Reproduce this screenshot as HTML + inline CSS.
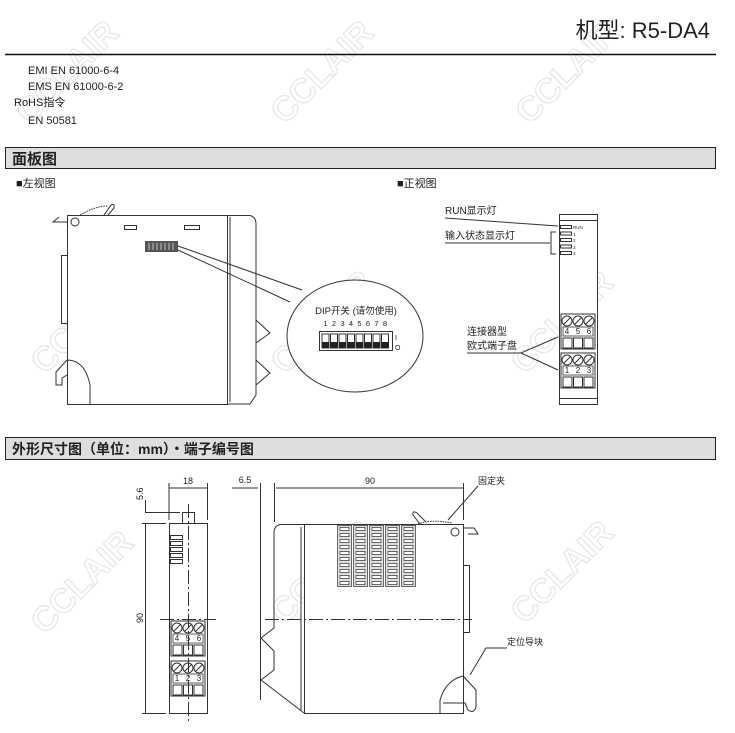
<!DOCTYPE html>
<html><head><meta charset="utf-8"><style>
html,body{margin:0;padding:0;background:#fff}
svg{display:block}
text{font-family:"Liberation Sans","Noto Sans CJK SC",sans-serif;fill:#222}
</style></head><body>
<svg width="735" height="733" viewBox="0 0 735 733" xmlns="http://www.w3.org/2000/svg">
<defs>
<g id="tb">
 <rect x="0" y="0" width="34" height="35" fill="#fff" stroke="#333" stroke-width="1"/>
 <circle cx="6" cy="7" r="5" fill="none" stroke="#333"/><line x1="2.5" y1="10.5" x2="9.5" y2="3.5" stroke="#333"/>
 <circle cx="17" cy="7" r="5" fill="none" stroke="#333"/><line x1="13.5" y1="10.5" x2="20.5" y2="3.5" stroke="#333"/>
 <circle cx="28" cy="7" r="5" fill="none" stroke="#333"/><line x1="24.5" y1="10.5" x2="31.5" y2="3.5" stroke="#333"/>
 <rect x="2" y="13" width="30" height="9" fill="none" stroke="#333" stroke-width="0.8"/>
 <rect x="2" y="24" width="9" height="10" fill="none" stroke="#333"/>
 <rect x="12.5" y="24" width="9" height="10" fill="none" stroke="#333"/>
 <rect x="23" y="24" width="9" height="10" fill="none" stroke="#333"/>
</g>
<g id="wm"><text x="0" y="0" font-size="34" font-weight="bold" stroke="#e6e6e6" stroke-width="1.2" style="fill:none" transform="rotate(-45)" text-anchor="middle">CCLAIR</text></g>
<pattern id="slot" patternUnits="userSpaceOnUse" x="337.5" y="526" width="16" height="6">
 <rect x="2.5" y="1.5" width="9" height="3" fill="#fff" stroke="#444" stroke-width="0.8"/>
</pattern>
</defs>

<use href="#wm" x="75" y="80"/><use href="#wm" x="330" y="80"/><use href="#wm" x="575" y="80"/>
<use href="#wm" x="90" y="330"/><use href="#wm" x="330" y="330"/><use href="#wm" x="570" y="330"/>
<use href="#wm" x="90" y="590"/><use href="#wm" x="330" y="580"/><use href="#wm" x="570" y="580"/>

<text x="710" y="38" font-size="22" text-anchor="end">机型: R5-DA4</text>
<line x1="5" y1="54.5" x2="716" y2="54.5" stroke="#111" stroke-width="1.5"/>
<text x="28" y="74" font-size="11">EMI EN 61000-6-4</text>
<text x="28" y="90" font-size="11">EMS EN 61000-6-2</text>
<text x="14" y="106" font-size="11">RoHS指令</text>
<text x="28" y="124" font-size="11">EN 50581</text>

<rect x="5.5" y="147.5" width="710" height="21" fill="#dedede" stroke="#222"/>
<text x="12" y="164" font-size="15" font-weight="bold">面板图</text>
<text x="16" y="187" font-size="11">■左视图</text>
<text x="397" y="187" font-size="11">■正视图</text>

<g fill="none" stroke="#333" stroke-width="1">
 <rect x="67.5" y="215.5" width="160" height="189" fill="#fff"/>
 <path d="M227.5 215.5 H250 Q256 217 256 224 V395 L250 404 H227.5"/>
 <line x1="230" y1="217" x2="230" y2="402"/>
 <path d="M256 320 L270 333 L256 343"/><path d="M256 360 L270 373 L256 385"/>
 <rect x="124.5" y="225.5" width="12" height="4"/><rect x="184.5" y="225.5" width="15" height="4"/>
 <circle cx="75" cy="222" r="4"/>
 <path d="M67 222 L53 222 L59 217"/>
 <rect x="61.5" y="255.5" width="6" height="68"/>
 <path d="M80 215 Q95 206 108 206" stroke-dasharray="1.5 1"/>
 <path d="M104 215 L111 205 Q115 203 114 208 L108 215"/>
 <path d="M67 360 Q85 360 90 385 V404 M67 360 L56 372 V385 H62 V378 L67 375"/>
 <path d="M178 246 L302 290"/><path d="M178 250 L290 302"/>
 <ellipse cx="355" cy="336" rx="68" ry="56" fill="#fff"/>
</g>
<rect x="145" y="241" width="33" height="11" fill="#555"/>
<g stroke="#ddd" stroke-width="0.8"><line x1="149" y1="243" x2="149" y2="250"/><line x1="153" y1="243" x2="153" y2="250"/><line x1="157" y1="243" x2="157" y2="250"/><line x1="161" y1="243" x2="161" y2="250"/><line x1="165" y1="243" x2="165" y2="250"/><line x1="169" y1="243" x2="169" y2="250"/><line x1="173" y1="243" x2="173" y2="250"/></g>
<text x="356" y="314" font-size="9.5" text-anchor="middle">DIP开关 (请勿使用)</text>
<g font-size="7.5" text-anchor="middle">
<text x="325.5" y="326">1</text><text x="334" y="326">2</text><text x="342.5" y="326">3</text><text x="351" y="326">4</text><text x="359.5" y="326">5</text><text x="368" y="326">6</text><text x="376.5" y="326">7</text><text x="385" y="326">8</text>
</g>
<rect x="319.5" y="331.5" width="73" height="19" fill="#fff" stroke="#333"/>
<g fill="#fff" stroke="#333">
<rect x="322" y="334" width="7" height="14"/><rect x="330.5" y="334" width="7" height="14"/><rect x="339" y="334" width="7" height="14"/><rect x="347.5" y="334" width="7" height="14"/><rect x="356" y="334" width="7" height="14"/><rect x="364.5" y="334" width="7" height="14"/><rect x="373" y="334" width="7" height="14"/><rect x="381.5" y="334" width="7" height="14"/>
</g>
<g fill="#222"><rect x="322" y="342" width="7" height="6"/><rect x="330.5" y="342" width="7" height="6"/><rect x="339" y="342" width="7" height="6"/><rect x="347.5" y="342" width="7" height="6"/><rect x="356" y="342" width="7" height="6"/><rect x="364.5" y="342" width="7" height="6"/><rect x="373" y="342" width="7" height="6"/><rect x="381.5" y="342" width="7" height="6"/></g>
<text x="395" y="340" font-size="7">I</text><text x="395" y="350" font-size="7">O</text>

<g fill="none" stroke="#333">
 <rect x="559.5" y="214.5" width="38" height="190" fill="#fff"/>
 <line x1="559" y1="220.5" x2="597" y2="220.5"/><line x1="559" y1="398.5" x2="597" y2="398.5"/>
 <rect x="560.5" y="225.5" width="11" height="3"/><rect x="560.5" y="232" width="11" height="3"/><rect x="560.5" y="238.5" width="11" height="3"/><rect x="560.5" y="245" width="11" height="3"/><rect x="560.5" y="251.5" width="11" height="3"/>
 <line x1="445" y1="218" x2="558" y2="226"/>
 <line x1="445" y1="243" x2="550" y2="243"/>
 <path d="M556 232 H551 V254 H556"/>
 <path d="M467 353 H521 L558 337 M521 353 L558 370"/>
</g>
<text x="573" y="229" font-size="4.5">RUN</text>
<text x="573" y="236" font-size="4.5">1</text><text x="573" y="242" font-size="4.5">2</text><text x="573" y="249" font-size="4.5">3</text><text x="573" y="255" font-size="4.5">4</text>
<text x="445" y="214" font-size="10">RUN显示灯</text>
<text x="445" y="239" font-size="10">输入状态显示灯</text>
<text x="467" y="335" font-size="10">连接器型</text>
<text x="467" y="349" font-size="10">欧式端子盘</text>
<use href="#tb" x="561" y="314"/>
<use href="#tb" x="561" y="353"/>
<text x="567" y="334" font-size="8" text-anchor="middle">4</text><text x="578" y="334" font-size="8" text-anchor="middle">5</text><text x="589" y="334" font-size="8" text-anchor="middle">6</text>
<text x="567" y="373" font-size="8" text-anchor="middle">1</text><text x="578" y="373" font-size="8" text-anchor="middle">2</text><text x="589" y="373" font-size="8" text-anchor="middle">3</text>

<rect x="5.5" y="437.5" width="710" height="22" fill="#dedede" stroke="#222"/>
<text x="12" y="454" font-size="14" font-weight="bold">外形尺寸图（单位：mm）・端子编号图</text>

<g fill="none" stroke="#333">
 <rect x="169.5" y="523.5" width="38" height="190" fill="#fff"/>
 <rect x="182.5" y="512.5" width="12" height="11"/>
 <line x1="169" y1="483" x2="169" y2="520"/><line x1="207.5" y1="483" x2="207.5" y2="520"/>
 <line x1="169" y1="488" x2="207" y2="488"/>
 <line x1="145" y1="512.5" x2="180" y2="512.5"/><line x1="142" y1="523.5" x2="166" y2="523.5"/><line x1="142" y1="713.5" x2="166" y2="713.5"/>
 <line x1="145.5" y1="500" x2="145.5" y2="512"/><line x1="145.5" y1="523" x2="145.5" y2="713"/>
 <rect x="170.5" y="535.5" width="12" height="4"/><rect x="170.5" y="541.5" width="12" height="4"/><rect x="170.5" y="547.5" width="12" height="4"/><rect x="170.5" y="553.5" width="12" height="4"/><rect x="170.5" y="559.5" width="12" height="4"/>
 <line x1="160" y1="619.5" x2="216" y2="619.5" stroke-dasharray="14 3 2 3"/>
</g>
<text x="188" y="484" font-size="9" text-anchor="middle">18</text>
<text transform="translate(143,500) rotate(-90)" font-size="9">5.6</text>
<text transform="translate(143,623) rotate(-90)" font-size="9">90</text>
<use href="#tb" x="171" y="621"/>
<use href="#tb" x="171" y="661"/>
<text x="177" y="641" font-size="8" text-anchor="middle">4</text><text x="188" y="641" font-size="8" text-anchor="middle">5</text><text x="199" y="641" font-size="8" text-anchor="middle">6</text>
<text x="177" y="681" font-size="8" text-anchor="middle">1</text><text x="188" y="681" font-size="8" text-anchor="middle">2</text><text x="199" y="681" font-size="8" text-anchor="middle">3</text>
<line x1="188.5" y1="504" x2="188.5" y2="722" stroke="#333" stroke-dasharray="14 3 2 3"/>

<g fill="none" stroke="#333">
 <rect x="304.5" y="524.5" width="159" height="189" fill="#fff"/>
 <path d="M304.5 524.5 H280 Q274 526 274 533 V628 L261 638 L274 651 V670 L261 680 L304 713"/>
 <line x1="301" y1="527" x2="301" y2="711"/>
 <line x1="232" y1="488" x2="258" y2="488"/><line x1="276" y1="488" x2="463" y2="488"/>
 <line x1="260.5" y1="483" x2="260.5" y2="700"/><line x1="274.5" y1="483" x2="274.5" y2="522"/><line x1="463.5" y1="483" x2="463.5" y2="520"/>
 <line x1="265" y1="619.5" x2="472" y2="619.5" stroke-dasharray="14 3 2 3"/>
 <circle cx="455" cy="532" r="4"/>
 <path d="M463 528 H474 L478 534 H468"/>
 <rect x="463.5" y="565.5" width="6" height="67"/>
 <path d="M463 676 Q446 680 440 700 V713 M463 676 L476 690 V707 Q474 714 468 710 L465 703 H443"/>
 <path d="M418 524 Q430 519 452 523" stroke-dasharray="1.5 1"/>
 <path d="M420 524 L413 515 Q412 510 417 513 L426 522"/>
 <path d="M478 486 L448 520"/><path d="M507 648 L486 648 L470 675"/>
</g>
<g fill="#ddd" stroke="#444" stroke-width="0.8">
 <rect x="337.5" y="525.5" width="14" height="61"/><rect x="353.5" y="525.5" width="14" height="61"/><rect x="369.5" y="525.5" width="14" height="61"/><rect x="385.5" y="525.5" width="14" height="61"/><rect x="401.5" y="525.5" width="14" height="61"/>
</g>
<rect x="337.5" y="526" width="80" height="60" fill="url(#slot)"/>
<text x="245" y="483" font-size="9" text-anchor="middle">6.5</text>
<text x="370" y="484" font-size="9" text-anchor="middle">90</text>
<text x="478" y="484" font-size="9">固定夹</text>
<text x="507" y="645" font-size="9">定位导块</text>
</svg>
</body></html>
